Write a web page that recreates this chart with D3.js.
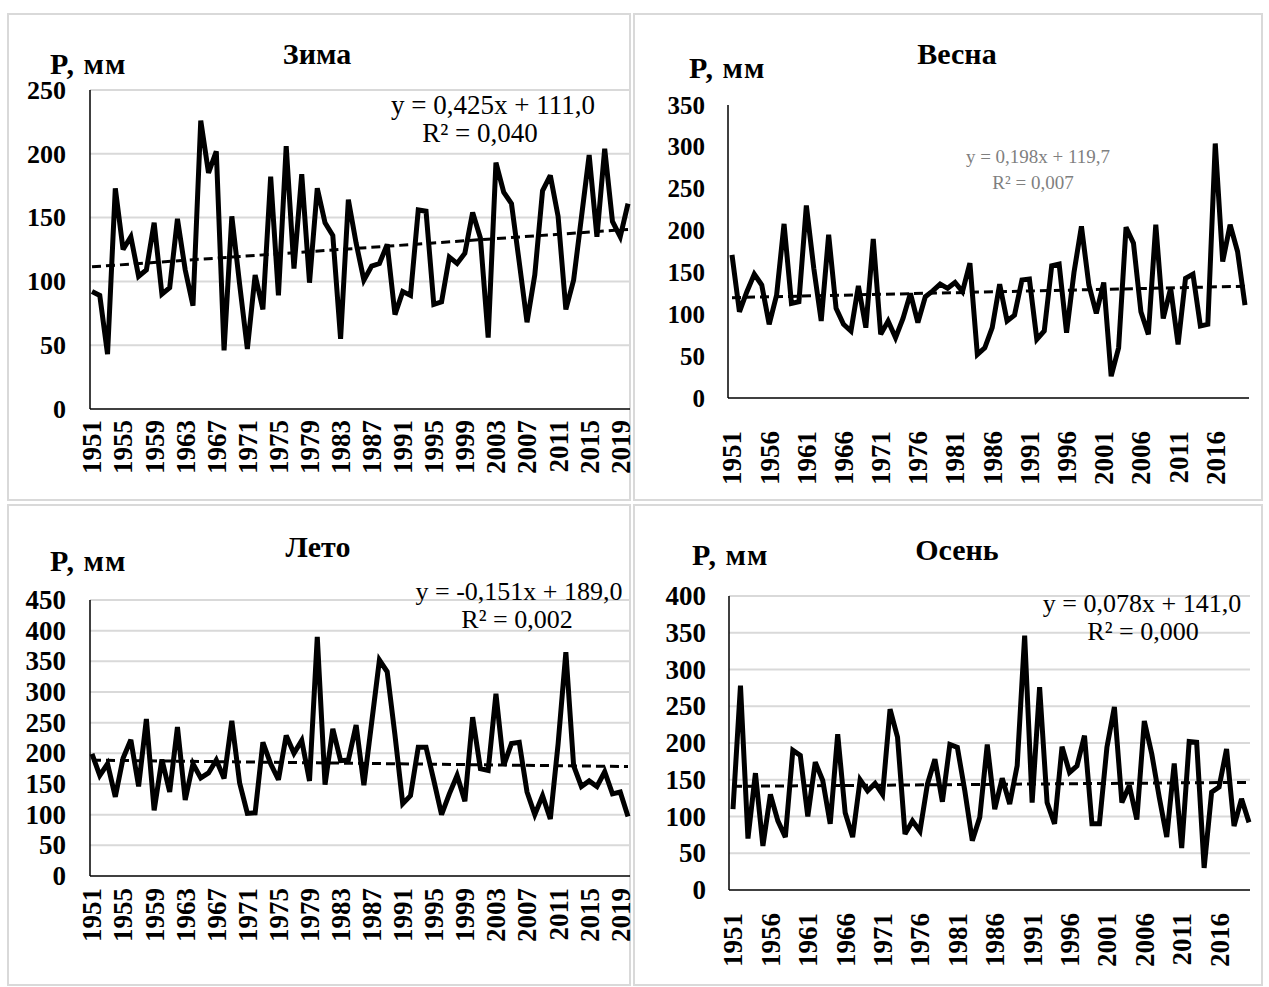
<!DOCTYPE html>
<html><head><meta charset="utf-8">
<script src="https://cdn.jsdelivr.net/npm/d3@7"></script>
<style>body{margin:0;background:#fff}svg{display:block}</style>
</head><body>
<svg id="c" width="1269" height="987"></svg>
<script>
const years = d3.range(1951, 2021);
const winter = [92,89,43,173,125,135,104,109,146,90,95,149,109,81,226,185,202,46,151,98,47,105,78,182,89,206,110,184,99,173,146,136,55,164,130,101,112,114,129,74,92,89,156,155,82,84,119,114,122,154,134,56,193,170,161,115,68,105,171,183,151,78,101,150,199,135,204,147,135,161];
const spring = [171,103,127,148,135,88,123,208,113,115,230,155,92,195,107,88,80,134,84,190,76,92,72,95,125,90,121,128,136,131,138,127,161,52,60,84,136,92,99,141,142,70,80,158,160,78,150,205,135,101,138,26,60,204,185,103,76,207,95,131,64,143,148,86,88,304,163,207,175,111];
const summer = [199,164,183,129,192,222,146,256,107,190,137,243,124,183,160,168,189,159,253,152,102,103,218,183,157,229,200,221,155,390,149,240,188,189,246,148,250,352,333,230,118,131,210,210,156,100,134,164,122,259,175,172,297,180,216,218,137,100,131,93,215,365,180,146,155,146,170,134,137,97];
const autumn = [110,278,70,159,60,130,94,72,190,183,100,174,149,90,212,105,72,150,135,145,130,246,208,76,94,80,144,178,120,198,194,135,67,99,198,110,152,117,169,346,119,276,119,90,195,160,169,210,90,90,194,249,119,142,96,230,185,126,72,172,57,202,201,30,133,140,192,87,124,92];

const winterTicks = [0,50,100,150,200,250];
const springTicks = [0,50,100,150,200,250,300,350];
const summerTicks = [0,50,100,150,200,250,300,350,400,450];
const autumnTicks = [0,50,100,150,200,250,300,350,400];
const labelsStep4 = d3.range(1951, 2021, 4);
const labelsStep5 = d3.range(1951, 2021, 5);

const trends = {
  winter: {a:0.425, b:111.0, eq:"y = 0,425x + 111,0", r2:"R² = 0,040"},
  spring: {a:0.198, b:119.7, eq:"y = 0,198x + 119,7", r2:"R² = 0,007"},
  summer: {a:-0.151, b:189.0, eq:"y = -0,151x + 189,0", r2:"R² = 0,002"},
  autumn: {a:0.078, b:141.0, eq:"y = 0,078x + 141,0", r2:"R² = 0,000"}
};

const svg = d3.select("#c");
const FONT = "'Liberation Serif','Times New Roman',serif";

function panel(cfg){
  const g = svg.append("g");
  g.append("rect").attr("x",cfg.fx).attr("y",cfg.fy).attr("width",cfg.fw).attr("height",cfg.fh)
    .attr("fill","#fff").attr("stroke","#d9d9d9").attr("stroke-width",2);
  const x = d3.scalePoint().domain(years).range([cfg.x0, cfg.x1]);
  const y = d3.scaleLinear().domain([0, cfg.ymax]).range([cfg.y0, cfg.y1]);
  if (cfg.grid) {
    g.append("g").selectAll("line").data(cfg.ticks.filter(t=>t>0)).join("line")
      .attr("x1",cfg.ax).attr("x2",cfg.axEnd).attr("y1",d=>y(d)).attr("y2",d=>y(d))
      .attr("stroke","#d9d9d9").attr("stroke-width",2);
  }
  const ya = d3.axisLeft(y).tickValues(cfg.ticks).tickSize(0).tickPadding(0);
  const yg = g.append("g").attr("transform",`translate(${cfg.ylx},0)`).call(ya);
  yg.select(".domain").remove();
  yg.selectAll("text").attr("font-family",FONT).attr("font-weight","bold").attr("font-size",cfg.ySize).attr("fill","#000");
  const xa = d3.axisBottom(x).tickValues(cfg.labels).tickSize(0).tickPadding(0);
  const xg = g.append("g").attr("transform",`translate(0,${cfg.xly})`).call(xa);
  xg.select(".domain").remove();
  xg.selectAll("text").attr("font-family",FONT).attr("font-weight","bold").attr("font-size",27).attr("fill","#000")
    .attr("text-anchor","end").attr("dy","0.33em").attr("y",0).attr("transform","rotate(-90)");
  g.append("line").attr("x1",cfg.ax).attr("x2",cfg.ax).attr("y1",y(cfg.ymax)).attr("y2",cfg.y0).attr("stroke","#000").attr("stroke-width",1.5);
  g.append("line").attr("x1",cfg.ax).attr("x2",cfg.axEnd).attr("y1",cfg.y0).attr("y2",cfg.y0).attr("stroke","#000").attr("stroke-width",1.5);
  const line = d3.line().x((d,i)=>x(years[i])).y(d=>y(d));
  g.append("path").datum(cfg.data).attr("d",line).attr("fill","none").attr("stroke","#000")
    .attr("stroke-width",5).attr("stroke-linejoin","miter").attr("stroke-miterlimit",3);
  const t = cfg.trend;
  g.append("line").attr("x1",x(years[0])).attr("x2",x(years[years.length-1]))
    .attr("y1",y(t.a*1+t.b)).attr("y2",y(t.a*years.length+t.b))
    .attr("stroke","#000").attr("stroke-width",3).attr("stroke-dasharray","9,5");
  g.append("text").attr("x",cfg.titleX).attr("y",cfg.titleY).attr("text-anchor","middle")
    .attr("font-family",FONT).attr("font-weight","bold").attr("font-size",30).text(cfg.title);
  g.append("text").attr("x",cfg.pX).attr("y",cfg.pY)
    .attr("font-family",FONT).attr("font-weight","bold").attr("font-size",30).attr("letter-spacing",1).text("P, мм");
  g.append("text").attr("x",cfg.eqX).attr("y",cfg.eqY).attr("text-anchor","middle")
    .attr("font-family",FONT).attr("font-size",cfg.eqSize).attr("fill",cfg.eqColor).text(t.eq);
  g.append("text").attr("x",cfg.eqX+cfg.r2dx).attr("y",cfg.eqY+cfg.r2dy).attr("text-anchor","middle")
    .attr("font-family",FONT).attr("font-size",cfg.eqSize).attr("fill",cfg.eqColor).text(t.r2);
}

panel({fx:8,fy:14,fw:622,fh:486, x0:92,x1:628, y0:409,y1:90, ymax:250, ax:90, axEnd:630,
  grid:true, ticks:winterTicks, labels:labelsStep4, ylx:66, ySize:26, xly:420, data:winter, trend:trends.winter,
  title:"Зима", titleX:317, titleY:64, pX:50, pY:74, eqX:493, eqY:114, r2dx:-13, r2dy:28, eqSize:27, eqColor:"#000"});

panel({fx:634,fy:14,fw:628,fh:486, x0:732,x1:1245, y0:398,y1:105, ymax:350, ax:728, axEnd:1249,
  grid:false, ticks:springTicks, labels:labelsStep5, ylx:705, ySize:25, xly:431, data:spring, trend:trends.spring,
  title:"Весна", titleX:957, titleY:64, pX:689, pY:78, eqX:1038, eqY:163, r2dx:-5, r2dy:26, eqSize:19, eqColor:"#7f7f7f"});

panel({fx:8,fy:505,fw:622,fh:480, x0:92,x1:628, y0:876,y1:600, ymax:450, ax:90, axEnd:630,
  grid:true, ticks:summerTicks, labels:labelsStep4, ylx:66, ySize:27, xly:888, data:summer, trend:trends.summer,
  title:"Лето", titleX:318, titleY:557, pX:50, pY:571, eqX:519, eqY:600, r2dx:-2, r2dy:28, eqSize:26, eqColor:"#000"});

panel({fx:634,fy:505,fw:628,fh:480, x0:733,x1:1249, y0:890,y1:596, ymax:400, ax:729, axEnd:1250,
  grid:true, ticks:autumnTicks, labels:labelsStep5, ylx:706, ySize:27, xly:913, data:autumn, trend:trends.autumn,
  title:"Осень", titleX:957, titleY:560, pX:692, pY:565, eqX:1142, eqY:612, r2dx:1, r2dy:28, eqSize:26, eqColor:"#000"});
</script>
</body></html>
